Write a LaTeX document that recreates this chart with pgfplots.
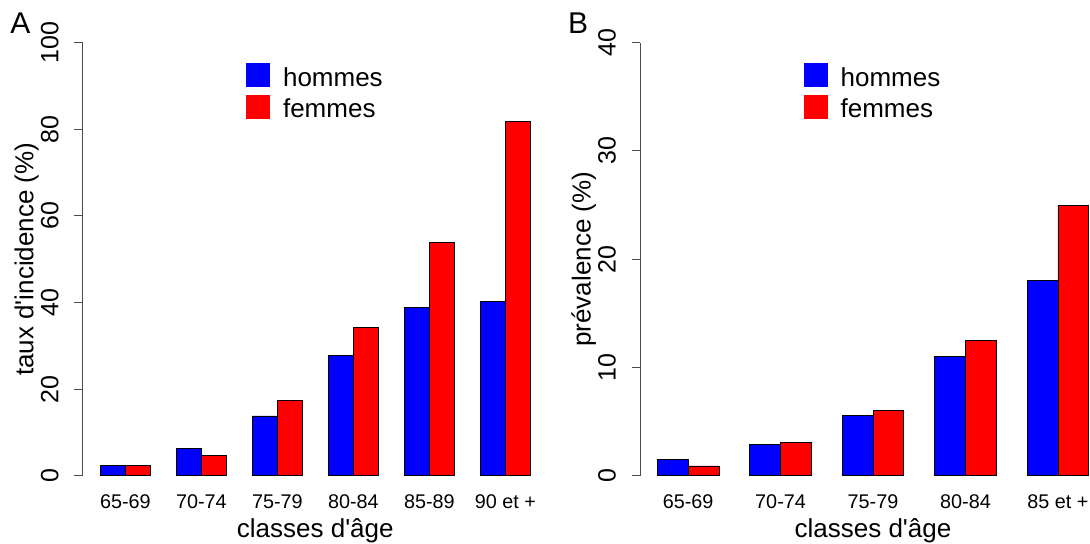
\documentclass[border=0pt]{standalone}
\usepackage{pgfplots}
\pgfplotsset{compat=1.18}
\usepackage{fontspec}
\setmainfont{Liberation Sans}
\definecolor{axgray}{gray}{0.3}
\begin{document}
\begin{tikzpicture}
\path[use as bounding box] (0,0) rectangle (545pt,-272pt);
\clip (0,0) rectangle (545pt,-272pt);
\pgfplotsset{
  myaxis/.style={
    scale only axis, height=216.5pt, ymin=0,
    axis x line*=bottom, axis y line*=left,
    x axis line style={draw=none},
    xtick style={draw=none},
    y axis line style={draw=axgray, line width=0.5pt},
    ytick style={draw=axgray, line width=0.5pt},
    tick align=outside, major tick length=4.15pt,
    /pgf/number format/assume math mode=true,
    yticklabel style={font=\fontsize{12.5}{14}\selectfont, xshift=-8pt, rotate=90, anchor=base},
    xticklabel style={font=\fontsize{9.9}{12}\selectfont, anchor=base, yshift=-12pt},
    label style={font=\fontsize{13}{15}\selectfont},
    xlabel style={at={(axis description cs:0.5,-0.1416)}, anchor=base},
    ylabel style={at={(axis description cs:-0.1062,0.5)}, anchor=base},
    xlabel={classes d\textquotesingle âge},
    ybar, bar shift=0pt, bar width=1,
    legend style={at={(0.352,0.9538)}, anchor=north west, draw=none, fill=none,
      inner sep=0pt, outer sep=0pt, row sep=2.8pt, column sep=6.3pt,
      font=\fontsize{13}{15}\selectfont, nodes={inner sep=0pt}},
    legend cell align=left,
  },
  sq/.style={legend image code/.code={\fill[##1, draw=none] (0pt,-4.5pt) rectangle (12pt,7.7pt);}},
}
\begin{axis}[myaxis, at={(41.35pt,-237.85pt)}, anchor=south west,
  width=232.6pt, xmin=0.317, xmax=18.68, ymax=100,
  ytick={0,20,40,60,80,100},
  xtick={2,5,8,11,14,17},
  xticklabels={65-69,70-74,75-79,80-84,85-89,90 et +},
  ylabel={taux d\textquotesingle incidence (\%)}]
\addplot[fill=blue, draw=black, line width=0.4pt, sq] coordinates {
  (1.5,2.3) (4.5,6.3) (7.5,13.8) (10.5,27.7) (13.5,38.8) (16.5,40.2)};
\addplot[fill=red, draw=black, line width=0.4pt, sq] coordinates {
  (2.5,2.3) (5.5,4.7) (8.5,17.4) (11.5,34.2) (14.5,53.8) (17.5,81.8)};
\legend{hommes, femmes}
\end{axis}
\begin{axis}[myaxis, at={(320pt,-237.85pt)}, anchor=south west,
  width=233pt, xmin=0.44, xmax=15.56, ymax=40,
  ytick={0,10,20,30,40},
  xtick={2,5,8,11,14},
  xticklabels={65-69,70-74,75-79,80-84,85 et +},
  ylabel={prévalence (\%)}]
\addplot[fill=blue, draw=black, line width=0.4pt, sq] coordinates {
  (1.5,1.5) (4.5,2.9) (7.5,5.6) (10.5,11.0) (13.5,18.0)};
\addplot[fill=red, draw=black, line width=0.4pt, sq] coordinates {
  (2.5,0.9) (5.5,3.1) (8.5,6.0) (11.5,12.5) (14.5,25.0)};
\legend{hommes, femmes}
\end{axis}
\node[anchor=base west, inner sep=0pt, font=\fontsize{15}{17}\selectfont] at (5pt,-16.65pt) {A};
\node[anchor=base west, inner sep=0pt, font=\fontsize{15}{17}\selectfont] at (283.9pt,-16.65pt) {B};
\end{tikzpicture}
\end{document}
